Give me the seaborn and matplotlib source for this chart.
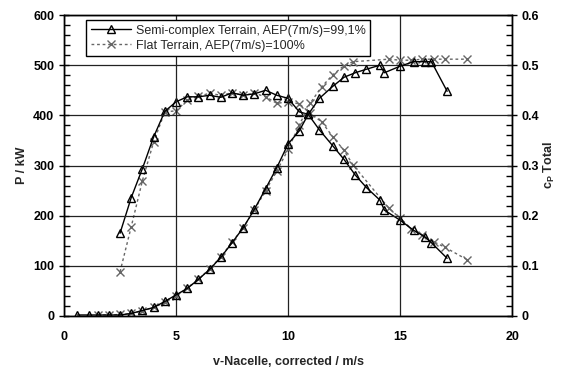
import matplotlib
matplotlib.use('Agg')
import matplotlib.pyplot as plt
from matplotlib.ticker import MultipleLocator
from matplotlib.lines import Line2D
import seaborn as sns

# semi-complex terrain
v_semi = [0.6, 1.1, 1.5, 2.0, 2.5, 3.0, 3.5, 4.0, 4.5, 5.0, 5.5, 6.0, 6.5, 7.0, 7.5, 8.0, 8.5, 9.0, 9.5,
          10.0, 10.5, 10.9, 11.4, 12.0, 12.5, 13.0, 13.5, 14.1, 14.3, 15.0, 15.6, 16.1, 16.4, 17.1]
p_semi = [2, 2, 2, 2, 2, 5, 11, 17, 29, 42, 55, 73, 93, 117, 146, 176, 213, 254, 296,
          343, 369, 402, 434, 458, 476, 485, 492, 500, 485, 498, 507, 507, 507, 448]
v_semi_cp = v_semi[4:]
cp_semi = [0.165, 0.236, 0.294, 0.357, 0.408, 0.427, 0.437, 0.437, 0.440, 0.436, 0.445, 0.440, 0.443, 0.450, 0.440,
           0.434, 0.407, 0.402, 0.371, 0.339, 0.312, 0.281, 0.256, 0.231, 0.211, 0.191, 0.171, 0.158, 0.146, 0.115]

# flat terrain
v_flat = [1.5, 2.0, 2.5, 3.0, 3.5, 4.0, 4.5, 5.0, 5.5, 6.0, 6.5, 7.0, 7.5, 8.0, 8.5, 9.0, 9.5,
          10.0, 10.5, 11.0, 11.5, 12.0, 12.5, 12.9, 14.5, 15.0, 15.5, 16.0, 16.5, 17.0, 18.0]
p_flat = [2, 2, 3, 5, 10, 17, 27, 40, 55, 73, 94, 118, 147, 176, 212, 250, 289,
          332, 381, 425, 457, 481, 499, 507, 512, 510, 510, 512, 512, 512, 512]
v_flat_cp = v_flat[2:]
cp_flat = [0.088, 0.178, 0.270, 0.347, 0.407, 0.409, 0.430, 0.438, 0.444, 0.440, 0.445, 0.440, 0.444, 0.437, 0.424,
           0.427, 0.423, 0.404, 0.387, 0.357, 0.330, 0.301, 0.215, 0.195, 0.174, 0.161, 0.148, 0.137, 0.112]

sns.set_style('white')
plt.rcParams['font.family'] = ['Liberation Sans', 'DejaVu Sans']

fig, ax = plt.subplots(figsize=(5.64, 3.67), dpi=100)
fig.subplots_adjust(left=0.1135, right=0.908, top=0.959, bottom=0.139)
ax2 = ax.twinx()

semi_kw = dict(color='black', lw=1, marker='^', markersize=6, markerfacecolor='none',
               markeredgecolor='black', markeredgewidth=1, sort=False, estimator=None)
flat_kw = dict(color='#666666', lw=1, linestyle=(0, (2, 2)), marker='x', markersize=6,
               markeredgecolor='#666666', markeredgewidth=1, sort=False, estimator=None)

sns.lineplot(x=v_flat, y=p_flat, ax=ax, **flat_kw)
sns.lineplot(x=v_semi, y=p_semi, ax=ax, **semi_kw)
sns.lineplot(x=v_flat_cp, y=cp_flat, ax=ax2, **flat_kw)
sns.lineplot(x=v_semi_cp, y=cp_semi, ax=ax2, **semi_kw)

ax.set_xlim(0, 20)
ax.set_ylim(0, 600)
ax2.set_ylim(0, 0.6)
ax.xaxis.set_major_locator(MultipleLocator(5))
ax.xaxis.set_minor_locator(MultipleLocator(0.5))
ax.yaxis.set_major_locator(MultipleLocator(100))
ax.yaxis.set_minor_locator(MultipleLocator(20))
ax2.set_yticks([0, 0.1, 0.2, 0.3, 0.4, 0.5, 0.6], ['0', '0.1', '0.2', '0.3', '0.4', '0.5', '0.6'])
ax2.yaxis.set_minor_locator(MultipleLocator(0.02))

ax.grid(True, which='major', color='#222222', lw=0.9)
ax.set_axisbelow(True)

for a in (ax, ax2):
    a.tick_params(which='major', direction='inout', length=7, width=1, colors='black',
                  labelsize=9)
    a.tick_params(which='minor', direction='in', length=4, width=1, colors='black')
    for s in a.spines.values():
        s.set_color('black')
        s.set_linewidth(1)
    for lab in a.get_xticklabels() + a.get_yticklabels():
        lab.set_fontweight('bold')
ax.tick_params(axis='x', which='major', pad=7)
ax2.tick_params(axis='y', which='both', left=False, right=True)
ax.tick_params(axis='y', which='both', right=False)

ax.set_xlabel('v-Nacelle, corrected / m/s', fontsize=9, fontweight='bold', labelpad=10)
ax.set_ylabel('P / kW', fontsize=9, fontweight='bold', labelpad=4)
ax2.set_ylabel(r'c$_\mathregular{P}$ Total', fontsize=9, fontweight='bold', labelpad=2)

h1 = Line2D([], [], color='black', lw=1, marker='^', markersize=6, markerfacecolor='none',
            markeredgecolor='black')
h2 = Line2D([], [], color='#666666', lw=1, linestyle=(0, (2, 2)), marker='x', markersize=6,
            markeredgecolor='#666666')
leg = ax.legend([h1, h2], ['Semi-complex Terrain, AEP(7m/s)=99,1%', 'Flat Terrain, AEP(7m/s)=100%'],
                loc='upper left', bbox_to_anchor=(0.05, 0.983), borderaxespad=0, fontsize=9,
                frameon=True, fancybox=False, framealpha=1, edgecolor='black',
                handlelength=3.2, borderpad=0.35, labelspacing=0.25, handletextpad=0.4)
leg.get_frame().set_linewidth(1)

# keep power axis (with legend) on top, grey plot background behind everything
ax.set_zorder(ax2.get_zorder() + 1)
ax.patch.set_visible(False)
ax2.set_facecolor('#f7f7f7')

plt.savefig('out.png', dpi=100)
